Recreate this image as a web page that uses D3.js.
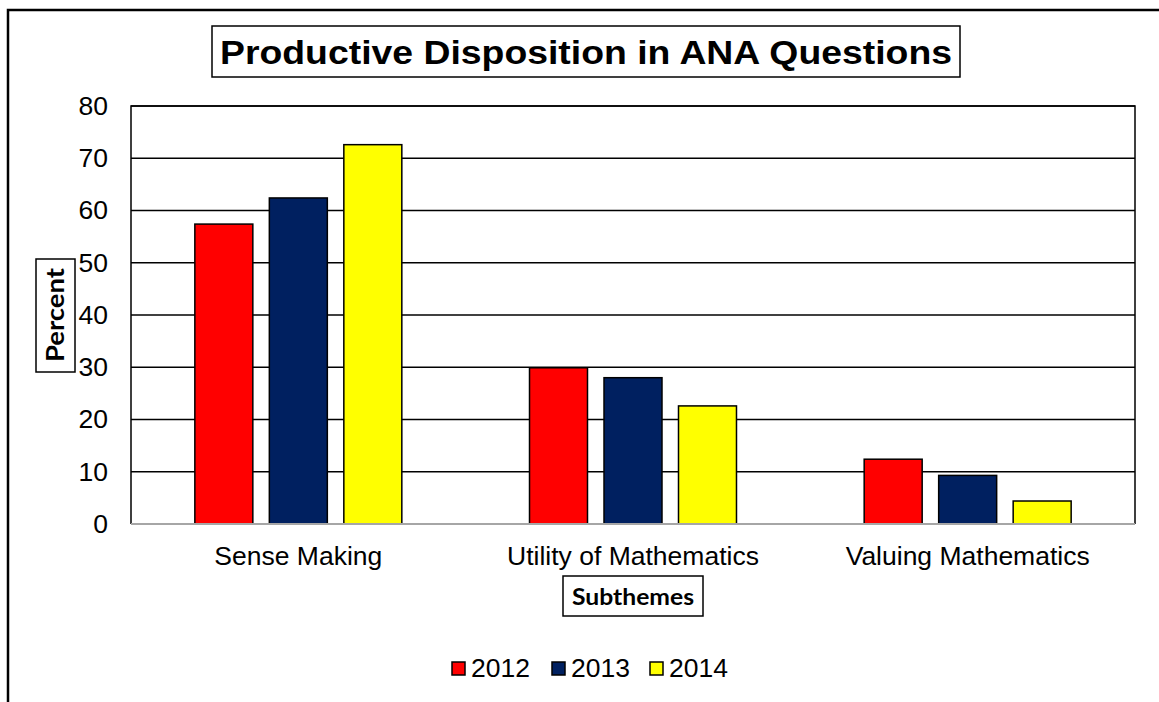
<!DOCTYPE html>
<html>
<head>
<meta charset="utf-8">
<script src="https://cdn.jsdelivr.net/npm/d3@7"></script>
<style>
  html, body { margin: 0; padding: 0; background: #fff; }
  svg { display: block; }
</style>
</head>
<body>
<svg id="chart" width="1159" height="702"></svg>
<script>
// Subthemes along the x axis
const categories = ["Sense Making", "Utility of Mathematics", "Valuing Mathematics"];
// Assessment years (one bar per year in each group)
const years = ["2012", "2013", "2014"];
// Percent of questions per subtheme, by year
const values2012 = [57.4, 29.9, 12.4];
const values2013 = [62.4, 28.0, 9.3];
const values2014 = [72.6, 22.6, 4.4];
const yTicks = [0, 10, 20, 30, 40, 50, 60, 70, 80];
const yearColors = ["#ff0000", "#002060", "#ffff00"];

const seriesByYear = [values2012, values2013, values2014];

const svg = d3.select("#chart");
const W = 1159, H = 702;

const plot = { left: 131, top: 106, right: 1135, bottom: 524 };
const labelFont = "Liberation Sans, Arial, sans-serif";
const boxFont = "Lato, Carlito, sans-serif";

// Outer frame (top and left edges)
svg.append("path")
  .attr("d", `M8,${H} L8,10 L${W},10`)
  .attr("fill", "none").attr("stroke", "#000").attr("stroke-width", 2.5);

const x0 = d3.scaleBand().domain(categories).range([plot.left, plot.right]).padding(0);
const x1 = d3.scaleBand().domain(years).range([0, x0.bandwidth()])
  .paddingInner(0.2215).paddingOuter(0.857);
const y = d3.scaleLinear().domain([0, 80]).range([plot.bottom, plot.top]);

// Horizontal gridlines
svg.append("g")
  .selectAll("line")
  .data(yTicks.filter(t => t > 0))
  .join("line")
  .attr("x1", plot.left).attr("x2", plot.right)
  .attr("y1", d => y(d)).attr("y2", d => y(d))
  .attr("stroke", "#000").attr("stroke-width", 1.5);

// Plot area border: left, top, right
svg.append("path")
  .attr("d", `M${plot.left},${plot.bottom} L${plot.left},${plot.top} L${plot.right},${plot.top} L${plot.right},${plot.bottom}`)
  .attr("fill", "none").attr("stroke", "#000").attr("stroke-width", 1.5);

// Y axis tick labels
const yAxis = d3.axisLeft(y).tickValues(yTicks).tickSize(0).tickPadding(23);
const yG = svg.append("g").attr("transform", `translate(${plot.left},0)`).call(yAxis);
yG.select(".domain").remove();
yG.selectAll("text")
  .attr("font-family", labelFont)
  .attr("font-size", 26.5).attr("fill", "#000");

// Bars
const groups = svg.append("g")
  .selectAll("g")
  .data(categories)
  .join("g")
  .attr("transform", d => `translate(${x0(d)},0)`);

groups.selectAll("rect")
  .data((c, ci) => years.map((yr, yi) => ({ year: yr, yi, value: seriesByYear[yi][ci] })))
  .join("rect")
  .attr("x", d => x1(d.year))
  .attr("y", d => y(d.value))
  .attr("width", x1.bandwidth())
  .attr("height", d => y(0) - y(d.value))
  .attr("fill", d => yearColors[d.yi])
  .attr("stroke", "#000").attr("stroke-width", 1.5);

// Category axis line
svg.append("line")
  .attr("x1", plot.left).attr("x2", plot.right)
  .attr("y1", y(0)).attr("y2", y(0))
  .attr("stroke", "#a6a6a6").attr("stroke-width", 2);

// Category labels
const xAxis = d3.axisBottom(x0).tickSize(0).tickPadding(22);
const xG = svg.append("g").attr("transform", `translate(0,${plot.bottom})`).call(xAxis);
xG.select(".domain").remove();
xG.selectAll("text")
  .attr("font-family", labelFont)
  .attr("font-size", 26.5).attr("fill", "#000");

// Title with box
svg.append("rect")
  .attr("x", 212).attr("y", 26).attr("width", 748).attr("height", 51)
  .attr("fill", "#fff").attr("stroke", "#000").attr("stroke-width", 1.5);
svg.append("text")
  .attr("x", 586).attr("y", 63.5)
  .attr("text-anchor", "middle")
  .attr("font-family", labelFont)
  .attr("font-weight", "bold").attr("font-size", 34)
  .attr("textLength", 732).attr("lengthAdjust", "spacingAndGlyphs")
  .text("Productive Disposition in ANA Questions");

// Y axis title with box
svg.append("rect")
  .attr("x", 36).attr("y", 259).attr("width", 39).attr("height", 113)
  .attr("fill", "#fff").attr("stroke", "#000").attr("stroke-width", 1.5);
svg.append("text")
  .attr("transform", "translate(63.5,315) rotate(-90)")
  .attr("text-anchor", "middle")
  .attr("font-family", boxFont)
  .attr("font-weight", "bold").attr("font-size", 25)
  .attr("textLength", 94).attr("lengthAdjust", "spacingAndGlyphs")
  .text("Percent");

// X axis title with box
svg.append("rect")
  .attr("x", 563).attr("y", 576).attr("width", 140).attr("height", 40)
  .attr("fill", "#fff").attr("stroke", "#000").attr("stroke-width", 1.5);
svg.append("text")
  .attr("x", 633).attr("y", 605)
  .attr("text-anchor", "middle")
  .attr("font-family", boxFont)
  .attr("font-weight", "bold").attr("font-size", 23.5)
  .attr("textLength", 122).attr("lengthAdjust", "spacingAndGlyphs")
  .text("Subthemes");

// Legend
const legendX = [452, 552, 650];
const legend = svg.append("g")
  .selectAll("g")
  .data(years)
  .join("g")
  .attr("transform", (d, i) => `translate(${legendX[i]},662)`);
legend.append("rect")
  .attr("width", 13).attr("height", 13)
  .attr("fill", (d, i) => yearColors[i])
  .attr("stroke", "#000").attr("stroke-width", 1.5);
legend.append("text")
  .attr("x", 19).attr("y", 14.5)
  .attr("font-family", labelFont)
  .attr("font-size", 26.5)
  .text(d => d);
</script>
</body>
</html>
